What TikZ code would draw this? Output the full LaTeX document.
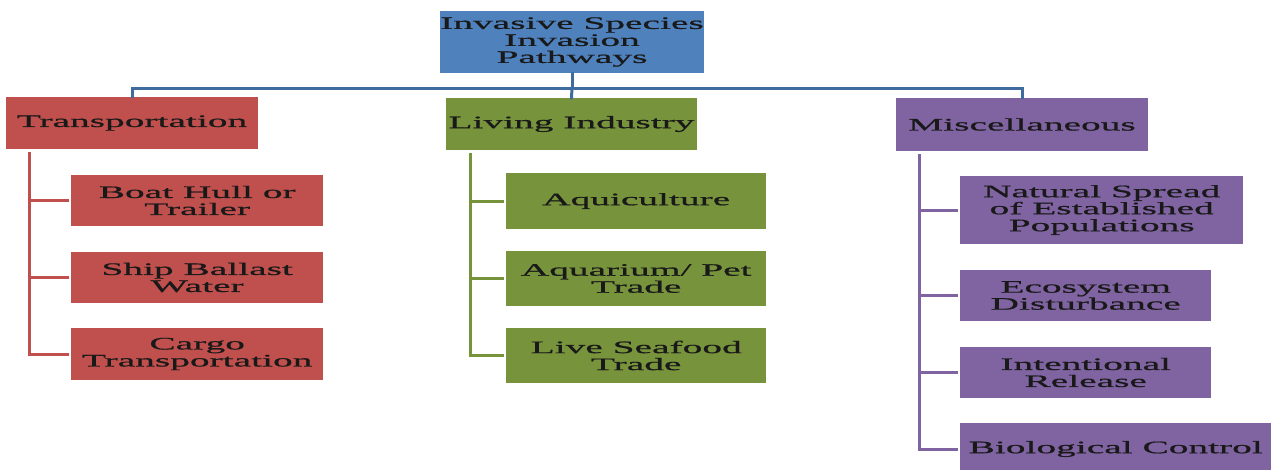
\documentclass[tikz,border=0pt]{standalone}
\usepackage{fontspec}
\setmainfont{Liberation Serif}[FakeStretch=2.25,FakeBold=0.8]
\usetikzlibrary{positioning}
\definecolor{qqblue}{HTML}{4F81BD}
\definecolor{qqbluedk}{HTML}{3E6C9E}
\definecolor{qqred}{HTML}{C0504D}
\definecolor{qqgreen}{HTML}{77933C}
\definecolor{qqpurple}{HTML}{8064A2}
\tikzset{
  pathbox/.style={rectangle,inner sep=0pt,align=center,text=black!90,minimum height=52},
  spine/.style={line width=3pt,line cap=rect}
}

\begin{document}
\begin{tikzpicture}[x=1pt,y=-1pt,font=\fontsize{17.5}{17}\selectfont]
\useasboundingbox (0,0) rectangle (1271,469);
% root and the three groups
\node[pathbox,fill=qqblue,minimum width=260,minimum height=62] (root) at (572,42) {Invasive Species\\Invasion\\Pathways};
\node[pathbox,fill=qqred,minimum width=252] (trans) at (132,123) {Transportation};
\node[pathbox,fill=qqgreen,minimum width=251] (living) at (571.5,124) {Living Industry};
\node[pathbox,fill=qqpurple,minimum width=252,minimum height=53] (misc) at (1022,124.5) {Miscellaneous};
% transportation
\node[pathbox,fill=qqred,minimum width=252,minimum height=51,anchor=west] (boat) at (71,200.5) {Boat Hull or\\Trailer};
\node[pathbox,fill=qqred,minimum width=252,minimum height=51,anchor=west] (ship) at (71,277.5) {Ship Ballast\\Water};
\node[pathbox,fill=qqred,minimum width=252,anchor=west] (cargo) at (71,354) {Cargo\\Transportation};
% living industry
\node[pathbox,fill=qqgreen,minimum width=260,minimum height=56,anchor=west] (aqui) at (506,201) {Aquiculture};
\node[pathbox,fill=qqgreen,minimum width=260,minimum height=55,anchor=west] (aquarium) at (506,278.5) {Aquarium/ Pet\\Trade};
\node[pathbox,fill=qqgreen,minimum width=260,minimum height=55,anchor=west] (seafood) at (506,355.5) {Live Seafood\\Trade};
% miscellaneous
\node[pathbox,fill=qqpurple,minimum width=283,minimum height=68,anchor=west] (natural) at (960,210) {Natural Spread\\of Established\\Populations};
\node[pathbox,fill=qqpurple,minimum width=251,minimum height=51,anchor=west] (eco) at (960,295.5) {Ecosystem\\Disturbance};
\node[pathbox,fill=qqpurple,minimum width=251,minimum height=51,anchor=west] (release) at (960,372.5) {Intentional\\Release};
\node[pathbox,fill=qqpurple,minimum width=311,anchor=west] (bio) at (960,449) {Biological Control};
% top connectors
\draw[spine,qqbluedk] (root.south) -- ++(0,15) coordinate (hub);
\draw[spine,qqbluedk] (trans.north) |- (hub) -| (misc.north);
\draw[spine,qqbluedk] (hub) -- (living.north);
% branches
\coordinate (tspine) at ([xshift=24pt,yshift=-4pt]trans.south west);
\draw[spine,qqred] (tspine) |- ([xshift=-4pt]cargo.west);
\foreach \c in {boat,ship}
  \draw[spine,qqred] (tspine |- \c.west) -- ([xshift=-4pt]\c.west);
\coordinate (lspine) at ([xshift=25pt,yshift=-4pt]living.south west);
\draw[spine,qqgreen] (lspine) |- ([xshift=-4pt]seafood.west);
\foreach \c in {aqui,aquarium}
  \draw[spine,qqgreen] (lspine |- \c.west) -- ([xshift=-4pt]\c.west);
\coordinate (mspine) at ([xshift=24pt,yshift=-4pt]misc.south west);
\draw[spine,qqpurple] (mspine) |- ([xshift=-4pt]bio.west);
\foreach \c in {natural,eco,release}
  \draw[spine,qqpurple] (mspine |- \c.west) -- ([xshift=-4pt]\c.west);
\end{tikzpicture}
\end{document}
